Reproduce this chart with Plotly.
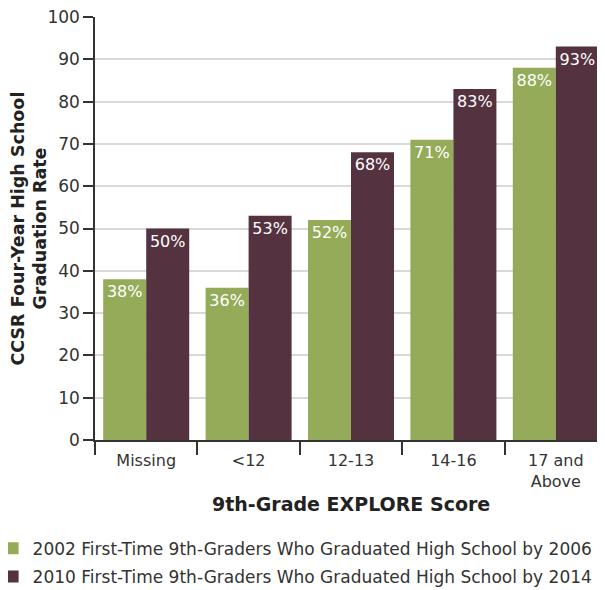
import plotly.graph_objects as go

categories = ["Missing", "<12", "12-13", "14-16", "17 and<br>Above"]
series_2002 = [38, 36, 52, 71, 88]
series_2010 = [50, 53, 68, 83, 93]
name_2002 = "2002 First-Time 9th-Graders Who Graduated High School by 2006"
name_2010 = "2010 First-Time 9th-Graders Who Graduated High School by 2014"
y_ticks = [0, 10, 20, 30, 40, 50, 60, 70, 80, 90, 100]

FONT = "DejaVu Sans"
GREEN = "#94ac59"
MAROON = "#55323f"
TXT = "#333333"

fig = go.Figure()
for name, vals, col, grp in [(name_2002, series_2002, GREEN, "g1"), (name_2010, series_2010, MAROON, "g2")]:
    fig.add_trace(go.Bar(
        x=categories, y=vals, name=name, legendgroup=grp,
        marker=dict(color=col, line=dict(width=0)),
        texttemplate="%{y}%", textposition="inside", insidetextanchor="end",
        textfont=dict(color="white", size=16, family=FONT), textangle=0,
    ))

fig.update_layout(
    width=605, height=590,
    margin=dict(l=87, r=6, t=9, b=158, autoexpand=False),
    paper_bgcolor="white", plot_bgcolor="white",
    barmode="group", bargap=0.16, bargroupgap=0,
    font=dict(family=FONT, color=TXT, size=16),
    showlegend=True,
    legend=dict(
        orientation="v", xref="paper", yref="container",
        x=-0.2, xanchor="left", y=0.114, yanchor="top",
        font=dict(size=17, color=TXT, family=FONT),
        tracegroupgap=3, bgcolor="rgba(0,0,0,0)",
    ),
    uniformtext=dict(minsize=8, mode="show"),
    annotations=[
        dict(text="<b>CCSR Four-Year High School<br>Graduation Rate</b>", textangle=-90,
             xref="paper", yref="paper", x=-0.1289, y=0.5, xanchor="center", yanchor="middle",
             showarrow=False, font=dict(size=17.5, color="#222222", family=FONT)),
        dict(text="<b>9th-Grade EXPLORE Score</b>",
             xref="paper", yref="paper", x=0.5, y=-0.152, xanchor="center", yanchor="middle",
             showarrow=False, font=dict(size=19, color="#222222", family=FONT)),
    ],
)

fig.update_yaxes(
    range=[0, 100], tickvals=y_ticks, showgrid=True, gridcolor="#d9d9d9", gridwidth=1.5,
    showline=True, linecolor="#333333", linewidth=1.5,
    ticks="outside", ticklen=10, tickcolor="#333333", tickwidth=1.5,
    tickfont=dict(size=17, color=TXT), zeroline=False, ticklabeloverflow="allow",
)
fig.update_xaxes(
    range=[-0.5, 4.5], showline=True, linecolor="#333333", linewidth=1.5,
    ticks="outside", tickson="boundaries", ticklen=13, tickcolor="#333333", tickwidth=1.5,
    tickfont=dict(size=16, color=TXT), tickangle=0, ticklabelstandoff=5,
)

fig.write_html("out.html")
